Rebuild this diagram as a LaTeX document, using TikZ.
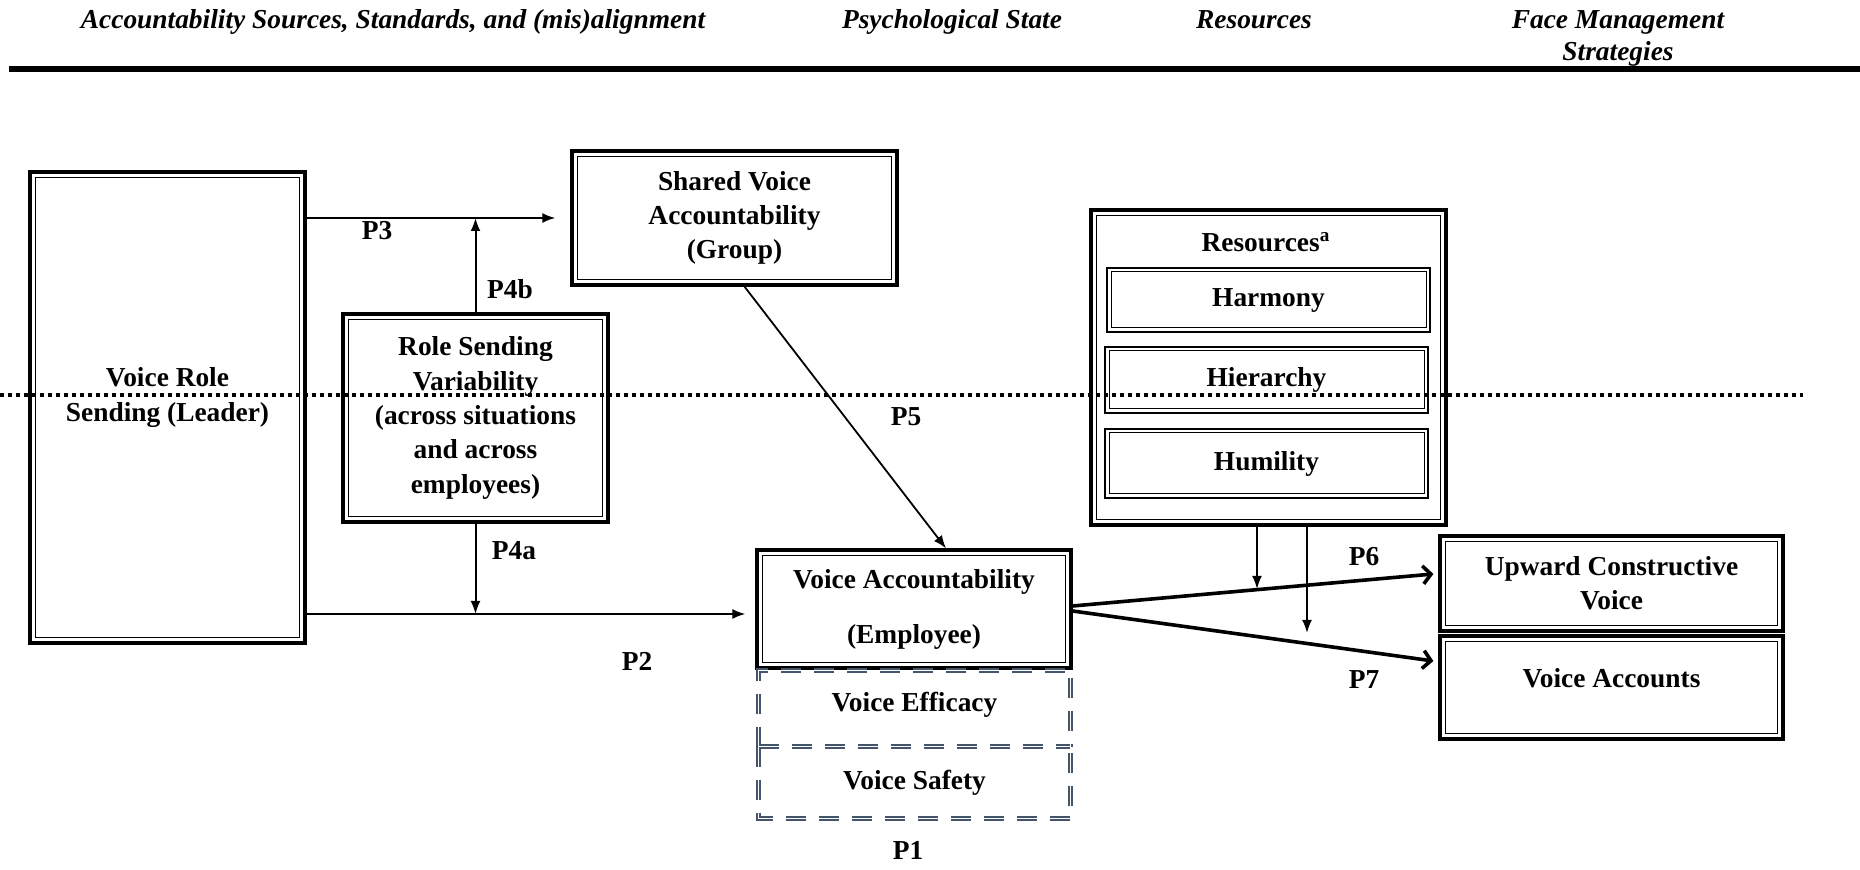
\documentclass[tikz,border=0pt]{standalone}
\usepackage{fontspec}
\setmainfont{Liberation Serif}
\usetikzlibrary{arrows.meta}
\definecolor{slate}{RGB}{68,84,106}

\begin{document}
\begin{tikzpicture}[x=0.5pt,y=-0.5pt,
  font=\bfseries\fontsize{13.7}{17.2}\selectfont,
  head/.style={font=\bfseries\itshape\fontsize{13.7}{16}\selectfont,align=center,anchor=base},
  frame/.style={draw,align=center,inner sep=0pt,path picture={\draw[line width=0.5pt]
    ([shift={(#1,-#1)}]path picture bounding box.north west) rectangle
    ([shift={(-#1,#1)}]path picture bounding box.south east);}},
  box/.style={frame=2.6pt,line width=1.6pt},
  subbox/.style={frame=2pt,line width=1pt,minimum width=161.5pt},
  dashline/.style={draw=slate,line width=0.7pt,double=white,double distance=0.8pt,
    dash pattern=on 10pt off 6.5pt},
  dashbox/.style={align=center,minimum width=155.5pt},
  arr/.style={line width=1pt,-{Latex[length=6.5pt,width=5pt]}},
  bigarr/.style={line width=1.8pt,-{Straight Barb[length=4pt,width=9pt]}}]
\useasboundingbox (0,0) rectangle (1860,870);
\node[head] (h1) at (393,29) {Accountability Sources, Standards, and (mis)alignment};
\node[head] (h2) at (952,29) {Psychological State};
\node[head] (h3) at (1254,29) {Resources};
\node[head] (h4) at (1618,61) {Face Management\\Strategies};
\draw[line width=3pt] (9,69) -- (1860,69);

\node[box,minimum width=137.5pt,minimum height=235.5pt,
  label={[align=center,yshift=5pt]center:Voice Role\\Sending (Leader)}] (leader) at (167.5,407.5) {};
\node[box,minimum width=132.5pt,minimum height=104pt] (vary) at (475.5,418)
  {Role Sending\\Variability\\(across situations\\and across\\employees)};
\node[box,minimum width=162.5pt,minimum height=67pt] (shared) at (734.5,218)
  {Shared Voice\\Accountability\\(Group)};
\node[box,minimum width=177.5pt,minimum height=157.5pt] (res) at (1268.5,367.5) {};
\node (restitle) at (1266,242) {Resources\textsuperscript{a}};
\node[subbox,minimum height=32pt] (harmony) at (1268.5,300) {Harmony};
\node[subbox,minimum height=33pt] (hierarchy) at (1266.5,380) {Hierarchy};
\node[subbox,minimum height=34.5pt] (humility) at (1266.5,463.5) {Humility};
\node[box,minimum width=157pt,minimum height=59pt] (acc) at (914,609)
  {Voice Accountability\\[10.3pt](Employee)};
\node[dashbox,minimum height=38pt,
  label={[yshift=2pt]center:Voice Efficacy}] (efficacy) at (914.5,709) {};
\node[dashbox,minimum height=35.5pt] (safety) at (914.5,782.5) {Voice Safety};
\draw[dashline] (efficacy.south west) -- (efficacy.north west) -- (efficacy.north east)
  -- (efficacy.south east);
\draw[dashline] (safety.north west) -- (safety.north east);
\draw[dashline] (safety.north west) -- (safety.south west) -- (safety.south east)
  -- (safety.north east);
\node[box,minimum width=171.5pt,minimum height=47.5pt] (upward) at (1611.5,583.5)
  {Upward Constructive\\Voice};
\node[box,minimum width=171.5pt,minimum height=51.5pt,
  label={[yshift=4.5pt]center:Voice Accounts}] (accounts) at (1611.5,687.5) {};

\coordinate (p2end) at ([xshift=-5pt,yshift=-2.5pt]acc.west);
\coordinate (r6) at (1257,589);
\coordinate (r7) at (1307,633);
\draw[arr] (leader.east |- shared.west) -- ([xshift=-7.5pt]shared.west);
\draw[arr] (vary.north) -- (vary.north |- shared.west);
\draw[arr] (leader.east |- p2end) -- (p2end);
\draw[arr] (vary.south) -- (vary.south |- p2end);
\draw[arr,line width=0.9pt] ([xshift=5pt]shared.south) -- ([xshift=16pt]acc.north);
\draw[bigarr] ([yshift=1.5pt]acc.east) -- ([xshift=-2.5pt,yshift=4.75pt]upward.west);
\draw[bigarr] ([yshift=-1pt]acc.east) -- ([xshift=-2.5pt,yshift=13.25pt]accounts.west);
\draw[arr] (res.south -| r6) -- (r6);
\draw[arr] (res.south -| r7) -- (r7);

\node (p1) at (908,850) {P1};
\node (p2) at (637,661) {P2};
\node (p3) at (377,231) {P3};
\node (p4a) at (514,551) {P4a};
\node (p4b) at (510,289) {P4b};
\node (p5) at (906,417) {P5};
\node (p6) at (1364,557) {P6};
\node (p7) at (1364,680) {P7};

\draw[line width=1.7pt,dash pattern=on 2pt off 2pt] (0,395) -- (1803,395);
\end{tikzpicture}
\end{document}
